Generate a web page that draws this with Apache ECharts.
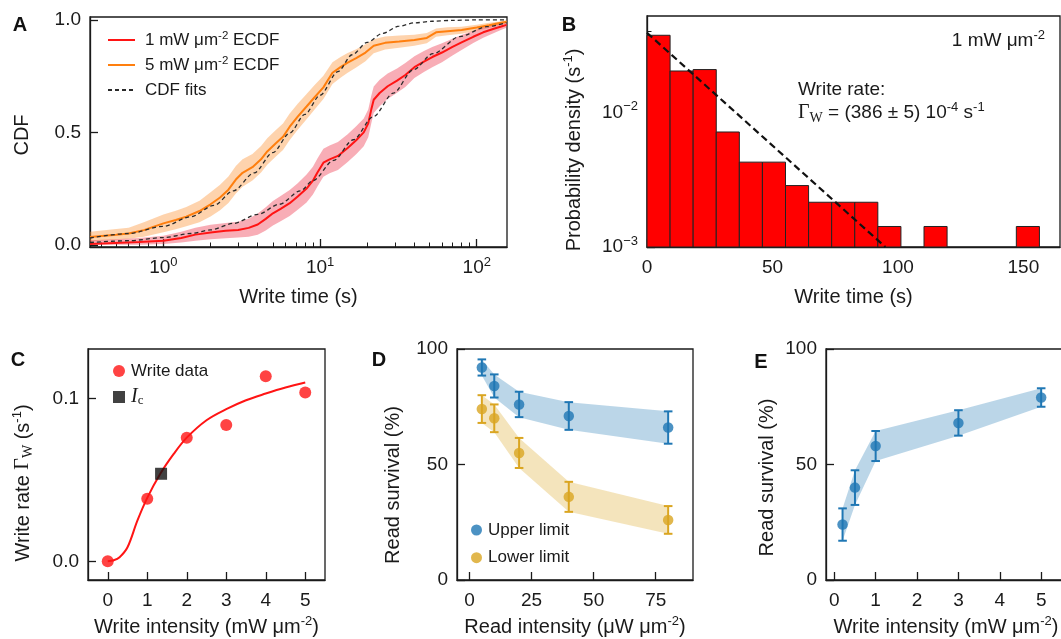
<!DOCTYPE html>
<html><head><meta charset="utf-8">
<script src="https://cdn.jsdelivr.net/npm/echarts@6/dist/echarts.min.js"></script>
<style>html,body{margin:0;padding:0;background:#fff}#c{width:1061px;height:639px}</style>
</head><body><div id="c"></div>
<script>
// ---------------- Panel A : ECDFs of write time ----------------
const aXTicks = [1, 10, 100];
const aXMinorTicks = [0.4,0.5,0.6,0.7,0.8,0.9,2,3,4,5,6,7,8,9,20,30,40,50,60,70,80,90];
const aYTicks = [0, 0.5, 1.0];

const ecdf5T  = [0.34,0.50,0.60,0.75,1.0,1.2,1.4,1.7,2.0,2.3,2.6,2.9,3.2,3.7,4.2,4.6,5.2,5.8,6.4,7.2,8.2,9.2,10.5,12.0,13.5,15.0,17.0,19.5,22,26,32,40,48,55,65,80,100,120,140,155];
const ecdf5   = [0.035,0.045,0.05,0.065,0.095,0.11,0.125,0.15,0.18,0.21,0.245,0.29,0.32,0.345,0.38,0.415,0.45,0.48,0.525,0.57,0.615,0.655,0.70,0.765,0.79,0.81,0.83,0.855,0.885,0.898,0.904,0.911,0.92,0.945,0.95,0.955,0.966,0.976,0.986,0.992];
const ecdf5Lo = [0.015,0.022,0.027,0.036,0.056,0.069,0.082,0.1,0.126,0.153,0.186,0.228,0.258,0.286,0.321,0.356,0.391,0.421,0.466,0.511,0.558,0.6,0.648,0.715,0.743,0.765,0.788,0.816,0.852,0.868,0.876,0.885,0.896,0.925,0.932,0.938,0.952,0.964,0.976,0.985];
const ecdf5Hi = [0.058,0.07,0.076,0.1,0.134,0.151,0.168,0.196,0.234,0.267,0.304,0.35,0.38,0.404,0.439,0.474,0.509,0.539,0.584,0.627,0.67,0.709,0.752,0.812,0.835,0.853,0.87,0.892,0.914,0.926,0.931,0.934,0.942,0.962,0.967,0.97,0.979,0.987,0.993,0.998];

const ecdf1T  = [0.34,0.49,0.7,1.0,1.3,1.6,2.0,2.5,3.0,3.5,4.0,4.5,5.0,5.6,6.4,7.2,8.2,9.0,9.6,10.5,11.5,13.0,15.0,17.0,19.0,20.3,21.2,22.0,24.0,27.0,31,35,40,46,52,60,70,80,95,110,130,145,155];
const ecdf1   = [0.003,0.008,0.012,0.018,0.03,0.045,0.055,0.062,0.066,0.075,0.09,0.115,0.14,0.16,0.185,0.215,0.25,0.285,0.32,0.365,0.38,0.395,0.43,0.465,0.50,0.54,0.60,0.645,0.675,0.705,0.73,0.755,0.79,0.815,0.835,0.855,0.88,0.90,0.925,0.945,0.962,0.972,0.978];
const ecdf1Lo = [0,0,0,0.003,0.01,0.018,0.024,0.029,0.032,0.036,0.045,0.063,0.086,0.105,0.128,0.156,0.188,0.223,0.258,0.303,0.318,0.333,0.368,0.403,0.438,0.478,0.538,0.586,0.616,0.648,0.676,0.702,0.742,0.768,0.79,0.812,0.842,0.866,0.897,0.921,0.943,0.957,0.965];
const ecdf1Hi = [0.02,0.025,0.03,0.04,0.058,0.076,0.089,0.097,0.102,0.116,0.139,0.167,0.195,0.217,0.244,0.274,0.312,0.347,0.382,0.427,0.442,0.457,0.492,0.527,0.562,0.602,0.662,0.704,0.734,0.762,0.784,0.808,0.838,0.862,0.88,0.896,0.916,0.933,0.952,0.968,0.98,0.987,0.99];

const fit5T = [0.34,0.6,1.0,1.5,2.1,2.8,3.8,5,6.4,8,10,13,16,20,25,32,40,52,70,100,155];
const fit5  = [0.03,0.05,0.082,0.125,0.175,0.24,0.32,0.41,0.497,0.58,0.665,0.77,0.845,0.9,0.94,0.972,0.987,0.994,0.998,1.0,1.0];
const fit1T = [0.34,0.6,1.0,1.5,2.0,2.8,4,5.5,7.5,9,12.2,16.3,21.9,29.3,39.3,52.6,78,116,155];
const fit1  = [0.01,0.018,0.032,0.05,0.066,0.095,0.135,0.18,0.24,0.285,0.375,0.467,0.57,0.674,0.778,0.85,0.926,0.97,0.988];

// ---------------- Panel B : histogram of write time ----------------
const histBinStart = [0,9.2,18.4,27.6,36.8,46,55.2,64.4,73.6,82.8,92,101.2,110.4,119.6,128.8,138,147.2];
const histBinWidth = 9.2;
const histDensity  = [0.0374,0.0203,0.0208,0.00715,0.00427,0.00427,0.00286,0.00215,0.00215,0.00215,0.00142,0,0.00142,0,0,0,0.00142];
const bFitT = [0, 95];
const bFit  = [0.039, 0.001];
const bXTicks = [0, 50, 100, 150];
const bYTicks = [0.001, 0.01];
const bYMinorTicks = [0.002,0.003,0.004,0.005,0.006,0.007,0.008,0.009,0.02,0.03,0.04];

// ---------------- Panel C : write rate vs intensity ----------------
const cX = [0, 1, 2, 3, 4, 5];
const cY = [0, 0.0384, 0.076, 0.0838, 0.1138, 0.1037];
const icX = [1.35];
const icY = [0.0538];
const cFitX = [0, 0.15, 0.3, 0.5, 0.75, 1.0, 1.33, 1.67, 2.0, 2.5, 3.0, 3.5, 4.0, 4.5, 5.0];
const cFitY = [0, 0.0006, 0.0025, 0.0086, 0.025, 0.039, 0.0538, 0.066, 0.076, 0.0867, 0.0935, 0.099, 0.1031, 0.1068, 0.1099];
const cXTicks = [0, 1, 2, 3, 4, 5];
const cYTicks = [0, 0.1];

// ---------------- Panel D : read survival vs read intensity ----------------
const dX = [5, 10, 20, 40, 80];
const dUpper = [92, 84, 76, 71, 66];
const dUpperErr = [3.5, 5, 5.5, 6, 7];
const dLower = [74, 70, 55, 36, 26];
const dLowerErr = [6, 6, 6.5, 6.5, 6];
const dXTicks = [0, 25, 50, 75];
const survTicks = [0, 50, 100];

// ---------------- Panel E : read survival vs write intensity ----------------
const eX = [0.2, 0.5, 1, 3, 5];
const eY = [24, 40, 58, 68, 79];
const eErr = [7, 7.5, 6.5, 5.5, 4];
const eXTicks = [0, 1, 2, 3, 4, 5];

// ---------------- styling ----------------
const FONT = "'Liberation Sans', Arial, sans-serif";
const SERIF = "'Liberation Serif', 'Times New Roman', serif";
const INK = '#1a1a1a';
const RED = '#ff1414', ORANGE = '#ff7f0e', BLUE = '#1f77b4', GOLD = '#daa520';
const lg = Math.log10;

const supRich = {
  sup: {fontSize: 13, fontFamily: FONT, color: INK, verticalAlign: 'top'},
  sub: {fontSize: 14, fontFamily: SERIF, color: INK, verticalAlign: 'bottom'},
  g: {fontSize: 20, fontFamily: SERIF, color: INK},
  it: {fontSize: 20, fontFamily: SERIF, fontStyle: 'italic', color: INK}
};

function axis(gridIndex, min, max, ticks, fmt, extra) {
  const a = {
    type: 'value', gridIndex, min, max,
    axisLine: {show: true, onZero: false, lineStyle: {color: INK, width: 1.3}},
    axisTick: {show: true, inside: true, length: 8, customValues: ticks, lineStyle: {color: INK, width: 1.3}},
    splitLine: {show: false},
    axisLabel: {show: true, customValues: ticks, formatter: fmt, color: INK, fontSize: 19, fontFamily: FONT, margin: 9, lineHeight: 24, rich: supRich},
    nameTextStyle: {fontSize: 20, fontFamily: FONT, color: INK, lineHeight: 24, rich: supRich}
  };
  return Object.assign(a, extra || {});
}
function minorAxis(gridIndex, min, max, ticks, pos) {
  return {
    type: 'value', gridIndex, min, max, position: pos,
    axisLine: {show: false, onZero: false},
    axisTick: {show: true, inside: true, length: 4.5, customValues: ticks, lineStyle: {color: INK, width: 1}},
    axisLabel: {show: false}, splitLine: {show: false}
  };
}
function grid(left, top, width, height) {
  return {left, top, width, height, show: true, borderColor: INK, borderWidth: 1.3, backgroundColor: 'transparent', containLabel: false, outerBoundsMode: 'none'};
}

function linBand(color, n) {
  return function (params, api) {
    if (params.dataIndex !== 0) return null;
    const up = [], dn = [];
    for (let i = 0; i < n; i++) {
      const x = api.value(0, i);
      up.push(api.coord([x, api.value(2, i)]));
      dn.push(api.coord([x, api.value(1, i)]));
    }
    return {type: 'polygon', silent: true, shape: {points: up.concat(dn.reverse())}, style: {fill: color}};
  };
}
function errBars(color) {
  return function (params, api) {
    const x = api.value(0), y = api.value(1), e = api.value(2);
    const t = api.coord([x, y + e]), b = api.coord([x, y - e]);
    const c = 4.3, st = {stroke: color, lineWidth: 2};
    return {type: 'group', children: [
      {type: 'line', shape: {x1: t[0], y1: t[1], x2: b[0], y2: b[1]}, style: st},
      {type: 'line', shape: {x1: t[0] - c, y1: t[1], x2: t[0] + c, y2: t[1]}, style: st},
      {type: 'line', shape: {x1: b[0] - c, y1: b[1], x2: b[0] + c, y2: b[1]}, style: st}
    ]};
  };
}
function histRect(params, api) {
  const p0 = api.coord([api.value(0), api.value(2)]);
  const p1 = api.coord([api.value(1), lg(bYTicks[0])]);
  return {type: 'rect', shape: {x: p0[0], y: p0[1], width: p1[0] - p0[0], height: p1[1] - p0[1]},
    style: {fill: '#ff0000', stroke: '#222', lineWidth: 1}};
}

const zip2 = (xs, ys, fx) => xs.map((x, i) => [fx ? fx(x) : x, ys[i]]);

const legendNames = {
  ecdf1: '1 mW μm{sup|-2} ECDF',
  ecdf5: '5 mW μm{sup|-2} ECDF',
  fits: 'CDF fits',
  wdata: 'Write data',
  ic: '{it|I}{sub|c}',
  up: 'Upper limit',
  low: 'Lower limit'
};
const legRich = {
  sup: {fontSize: 11.5, fontFamily: FONT, color: INK, verticalAlign: 'top'},
  it: {fontSize: 20, fontFamily: SERIF, fontStyle: 'italic', color: INK},
  sub: {fontSize: 13, fontFamily: SERIF, color: INK, verticalAlign: 'bottom'}
};
function legend(names, left, top, iw, ih, gap, pad, extra) {
  return Object.assign({data: names, left, top, orient: 'vertical', padding: 0, itemWidth: iw, itemHeight: ih, itemGap: gap,
    selectedMode: false, formatter: n => legendNames[n],
    textStyle: {fontSize: 17, fontFamily: FONT, color: INK, lineHeight: 20, padding: [0, 0, 0, pad], rich: legRich}}, extra || {});
}

const xName = (txt, gap) => ({name: txt, nameLocation: 'middle', nameGap: gap});

const option = {
  animation: false,
  backgroundColor: '#fff',
  textStyle: {fontFamily: FONT},
  grid: [
    grid(90, 17, 417, 230),     // A
    grid(647, 16, 413, 231),    // B
    grid(88, 349, 237, 231),    // C
    grid(457, 349, 236, 231),   // D
    grid(826, 349, 240, 231)    // E
  ],
  xAxis: [
    axis(0, lg(0.34), lg(156), aXTicks.map(lg), v => '10{sup|' + Math.round(v) + '}', xName('Write time (s)', 38)),
    minorAxis(0, lg(0.34), lg(156), aXMinorTicks.map(lg), 'bottom'),
    axis(1, 0, 164.6, bXTicks, v => String(v), xName('Write time (s)', 38)),
    axis(2, -0.5, 5.5, cXTicks, v => String(v), xName('Write intensity (mW μm{sup|-2})', 35)),
    axis(3, -5, 90, dXTicks, v => String(v), xName('Read intensity (μW μm{sup|-2})', 35)),
    axis(4, -0.2, 5.6, eXTicks, v => String(v), xName('Write intensity (mW μm{sup|-2})', 35))
  ],
  yAxis: [
    axis(0, -0.01, 1.013, aYTicks, v => v.toFixed(1)),
    axis(1, lg(0.001), lg(0.052), bYTicks.map(lg), v => '10{sup|−' + Math.round(-v) + '}'),
    minorAxis(1, lg(0.001), lg(0.052), bYMinorTicks.map(lg), 'left'),
    axis(2, -0.0115, 0.1305, cYTicks, v => v.toFixed(1)),
    axis(3, 0, 100, survTicks, v => String(v)),
    axis(4, 0, 100, survTicks, v => String(v))
  ],
  legend: [
    legend(['ecdf1', 'ecdf5', 'fits'], 107, 30, 27, 14, 5, 5,
      {itemStyle: {color: 'transparent', borderColor: 'transparent', borderWidth: 0, opacity: 0}}),
    legend(['wdata', 'ic'], 113, 361, 12, 12, 6, 1),
    legend(['up', 'low'], 471, 520, 11, 11, 7.7, 1)
  ],
  series: [
    // ---- A ----
    {type: 'custom', name: 'band5', xAxisIndex: 0, yAxisIndex: 0, z: 1, silent: true,
      encode: {x: 0, y: [1, 2]}, renderItem: linBand('rgba(253,150,60,0.42)', ecdf5T.length),
      data: ecdf5T.map((t, i) => [lg(t), ecdf5Lo[i], ecdf5Hi[i]])},
    {type: 'custom', name: 'band1', xAxisIndex: 0, yAxisIndex: 0, z: 1, silent: true,
      encode: {x: 0, y: [1, 2]}, renderItem: linBand('rgba(238,60,80,0.42)', ecdf1T.length),
      data: ecdf1T.map((t, i) => [lg(t), ecdf1Lo[i], ecdf1Hi[i]])},
    {type: 'line', name: 'ecdf1', xAxisIndex: 0, yAxisIndex: 0, z: 3, symbol: 'none',
      lineStyle: {color: RED, width: 2}, itemStyle: {color: RED}, data: zip2(ecdf1T, ecdf1, lg)},
    {type: 'line', name: 'ecdf5', xAxisIndex: 0, yAxisIndex: 0, z: 3, symbol: 'none',
      lineStyle: {color: ORANGE, width: 2}, itemStyle: {color: ORANGE}, data: zip2(ecdf5T, ecdf5, lg)},
    {type: 'line', name: 'fits', xAxisIndex: 0, yAxisIndex: 0, z: 4, smooth: 0.3, smoothMonotone: 'x', symbol: 'none',
      lineStyle: {color: '#2a2a2a', width: 1.3, type: [4, 3]}, itemStyle: {color: '#2a2a2a'}, data: zip2(fit5T, fit5, lg)},
    {type: 'line', name: 'fits', xAxisIndex: 0, yAxisIndex: 0, z: 4, smooth: 0.3, smoothMonotone: 'x', symbol: 'none',
      lineStyle: {color: '#2a2a2a', width: 1.3, type: [4, 3]}, itemStyle: {color: '#2a2a2a'}, data: zip2(fit1T, fit1, lg)},
    // ---- B ----
    {type: 'custom', name: 'hist', xAxisIndex: 2, yAxisIndex: 1, z: 2, encode: {x: [0, 1], y: 2},
      renderItem: histRect,
      data: histBinStart.map((s, i) => [s, s + histBinWidth, histDensity[i]]).filter(d => d[2] > 0).map(d => [d[0], d[1], lg(d[2])])},
    {type: 'line', name: 'bfit', xAxisIndex: 2, yAxisIndex: 1, z: 4, symbol: 'none',
      lineStyle: {color: '#111', width: 2.2, type: [7, 4]}, data: zip2(bFitT, bFit.map(lg))},
    // ---- C ----
    {type: 'line', name: 'cfit', xAxisIndex: 3, yAxisIndex: 3, z: 3, smooth: 0.35, symbol: 'none',
      lineStyle: {color: RED, width: 2}, data: zip2(cFitX, cFitY)},
    {type: 'scatter', name: 'wdata', xAxisIndex: 3, yAxisIndex: 3, z: 4, symbol: 'circle', symbolSize: 12,
      itemStyle: {color: RED}, data: zip2(cX, cY)},
    {type: 'scatter', name: 'ic', xAxisIndex: 3, yAxisIndex: 3, z: 5, symbol: 'rect', symbolSize: 12,
      itemStyle: {color: '#111'}, data: zip2(icX, icY)},
    // ---- D ----
    {type: 'custom', name: 'dband1', xAxisIndex: 4, yAxisIndex: 4, z: 1, silent: true, encode: {x: 0, y: [1, 2]},
      renderItem: linBand('rgba(31,119,180,0.3)', dX.length),
      data: dX.map((x, i) => [x, dUpper[i] - dUpperErr[i], dUpper[i] + dUpperErr[i]])},
    {type: 'custom', name: 'dband2', xAxisIndex: 4, yAxisIndex: 4, z: 1, silent: true, encode: {x: 0, y: [1, 2]},
      renderItem: linBand('rgba(218,165,32,0.3)', dX.length),
      data: dX.map((x, i) => [x, dLower[i] - dLowerErr[i], dLower[i] + dLowerErr[i]])},
    {type: 'custom', name: 'derr1', xAxisIndex: 4, yAxisIndex: 4, z: 3, encode: {x: 0, y: 1},
      renderItem: errBars(BLUE), data: dX.map((x, i) => [x, dUpper[i], dUpperErr[i]])},
    {type: 'custom', name: 'derr2', xAxisIndex: 4, yAxisIndex: 4, z: 3, encode: {x: 0, y: 1},
      renderItem: errBars(GOLD), data: dX.map((x, i) => [x, dLower[i], dLowerErr[i]])},
    {type: 'scatter', name: 'up', xAxisIndex: 4, yAxisIndex: 4, z: 4, symbolSize: 10.5,
      itemStyle: {color: BLUE}, data: zip2(dX, dUpper)},
    {type: 'scatter', name: 'low', xAxisIndex: 4, yAxisIndex: 4, z: 4, symbolSize: 10.5,
      itemStyle: {color: GOLD}, data: zip2(dX, dLower)},
    // ---- E ----
    {type: 'custom', name: 'eband', xAxisIndex: 5, yAxisIndex: 5, z: 1, silent: true, encode: {x: 0, y: [1, 2]},
      renderItem: linBand('rgba(31,119,180,0.3)', eX.length),
      data: eX.map((x, i) => [x, eY[i] - eErr[i], eY[i] + eErr[i]])},
    {type: 'custom', name: 'eerr', xAxisIndex: 5, yAxisIndex: 5, z: 3, encode: {x: 0, y: 1},
      renderItem: errBars(BLUE), data: eX.map((x, i) => [x, eY[i], eErr[i]])},
    {type: 'scatter', name: 'edata', xAxisIndex: 5, yAxisIndex: 5, z: 4, symbolSize: 10.5,
      itemStyle: {color: BLUE}, data: zip2(eX, eY)}
  ],
  graphic: [
    // panel letters
    ...[['A', 20, 25], ['B', 569, 25], ['C', 18, 360], ['D', 379, 360], ['E', 761, 362]].map(([t, x, y]) => ({
      type: 'text', x, y, silent: true,
      style: {text: t, fontSize: 20, fontWeight: 'bold', fontFamily: FONT, fill: '#111', align: 'center', verticalAlign: 'middle'}})),
    // y-axis titles
    ...[['CDF', 22.5, 135], ['Probability density (s{sup|-1})', 574, 150], ['Write rate {g|Γ}{sub|W} (s{sup|-1})', 23, 483],
        ['Read survival (%)', 393.5, 485], ['Read survival (%)', 767.5, 477.5]].map(([t, x, y]) => ({
      type: 'text', x, y, rotation: Math.PI / 2, silent: true,
      style: {text: t, fontSize: 20, fontFamily: FONT, fill: INK, align: 'center', verticalAlign: 'middle', lineHeight: 24, rich: supRich}})),
    // panel B annotations
    {type: 'text', x: 1045, y: 41, silent: true,
      style: {text: '1 mW μm{sup|-2}', fontSize: 19, fontFamily: FONT, fill: INK, align: 'right', verticalAlign: 'middle', lineHeight: 24, rich: supRich}},
    {type: 'text', x: 798, y: 90, silent: true,
      style: {text: 'Write rate:', fontSize: 19, fontFamily: FONT, fill: INK, align: 'left', verticalAlign: 'middle'}},
    {type: 'text', x: 798, y: 113, silent: true,
      style: {text: '{g|Γ}{sub|W} = (386 ± 5) 10{sup|-4} s{sup|-1}', fontSize: 19, fontFamily: FONT, fill: INK, align: 'left', verticalAlign: 'middle', lineHeight: 24, rich: supRich}}
  ]
};

const chart = echarts.init(document.getElementById('c'), null, {renderer: 'canvas'});
chart.setOption(option);
</script></body></html>
